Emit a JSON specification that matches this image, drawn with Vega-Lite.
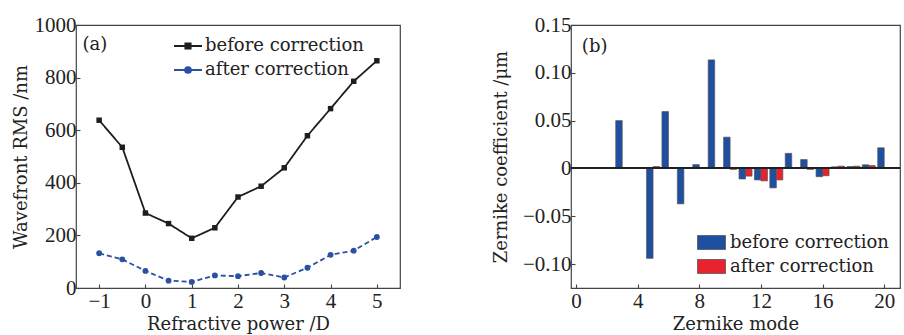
{
  "$schema": "https://vega.github.io/schema/vega-lite/v6.json",
  "padding": {"left": 11, "top": 13, "right": 0, "bottom": 0},
  "background": "white",
  "config": {
    "font": "DejaVu Serif",
    "view": {"stroke": "#444", "strokeWidth": 1.2},
    "axis": {
      "domain": false,
      "grid": false,
      "ticks": true,
      "tickColor": "#444",
      "tickSize": -4,
      "tickWidth": 1.1,
      "labelFont": "Liberation Serif",
      "labelFontSize": 21,
      "labelColor": "#222",
      "titleFont": "DejaVu Serif",
      "titleFontSize": 18,
      "titleFontWeight": "normal",
      "titleColor": "#222"
    }
  },
  "resolve": {"scale": {"color": "independent"}, "legend": {"color": "independent"}},
  "hconcat": [
    {
      "width": 324,
      "height": 263,
      "data": {
        "values": [
          {"power": -1, "series": "before correction", "rms": 638},
          {"power": -0.5, "series": "before correction", "rms": 535},
          {"power": 0, "series": "before correction", "rms": 285},
          {"power": 0.5, "series": "before correction", "rms": 245},
          {"power": 1, "series": "before correction", "rms": 189},
          {"power": 1.5, "series": "before correction", "rms": 229},
          {"power": 2, "series": "before correction", "rms": 346},
          {"power": 2.5, "series": "before correction", "rms": 387},
          {"power": 3, "series": "before correction", "rms": 457},
          {"power": 3.5, "series": "before correction", "rms": 579},
          {"power": 4, "series": "before correction", "rms": 682},
          {"power": 4.5, "series": "before correction", "rms": 786},
          {"power": 5, "series": "before correction", "rms": 864},
          {"power": -1, "series": "after correction", "rms": 132},
          {"power": -0.5, "series": "after correction", "rms": 109},
          {"power": 0, "series": "after correction", "rms": 65},
          {"power": 0.5, "series": "after correction", "rms": 28},
          {"power": 1, "series": "after correction", "rms": 23},
          {"power": 1.5, "series": "after correction", "rms": 48},
          {"power": 2, "series": "after correction", "rms": 45},
          {"power": 2.5, "series": "after correction", "rms": 57},
          {"power": 3, "series": "after correction", "rms": 40},
          {"power": 3.5, "series": "after correction", "rms": 77},
          {"power": 4, "series": "after correction", "rms": 126},
          {"power": 4.5, "series": "after correction", "rms": 142},
          {"power": 5, "series": "after correction", "rms": 194}
        ]
      },
      "layer": [
        {
          "mark": {"type": "line", "strokeWidth": 1.8},
          "encoding": {
            "x": {"field": "power", "type": "quantitative", "title": "Refractive power /D",
              "scale": {"domain": [-1.5, 5.5], "nice": false, "zero": false},
              "axis": {"values": [-1, 0, 1, 2, 3, 4, 5], "labelPadding": 6, "titlePadding": 4}},
            "y": {"field": "rms", "type": "quantitative", "title": "Wavefront RMS /nm",
              "scale": {"domain": [0, 1000], "nice": false},
              "axis": {"values": [0, 200, 400, 600, 800, 1000], "format": "d", "labelPadding": 4, "titlePadding": 4}},
            "color": {"field": "series", "type": "nominal",
              "scale": {"domain": ["before correction", "after correction"], "range": ["#1e1e1e", "#2a4fa3"]},
              "legend": {
                "title": null, "orient": "none", "legendX": 97, "legendY": 6,
                "labelFont": "DejaVu Serif", "labelFontSize": 18, "labelColor": "#222",
                "symbolSize": 784, "labelOffset": 2, "rowPadding": -4, "symbolStrokeWidth": 1.8,
                "symbolType": {"expr": "datum.value === 'before correction' ? 'M-1,0H1M-0.19,-0.19H0.19V0.19H-0.19Z' : 'M-1,0H1M0.21,0A0.21,0.21 0 1 1 -0.21,0A0.21,0.21 0 1 1 0.21,0Z'"}
              }},
            "strokeDash": {"field": "series", "type": "nominal",
              "scale": {"domain": ["before correction", "after correction"], "range": [[1, 0], [5, 3]]},
              "legend": null}
          }
        },
        {
          "transform": [{"filter": "datum.series === 'before correction'"}],
          "mark": {"type": "point", "shape": "square", "filled": true, "size": 30, "opacity": 1},
          "encoding": {
            "x": {"field": "power", "type": "quantitative"},
            "y": {"field": "rms", "type": "quantitative"},
            "color": {"field": "series", "type": "nominal"}
          }
        },
        {
          "transform": [{"filter": "datum.series === 'after correction'"}],
          "mark": {"type": "point", "shape": "circle", "filled": true, "size": 34, "opacity": 1},
          "encoding": {
            "x": {"field": "power", "type": "quantitative"},
            "y": {"field": "rms", "type": "quantitative"},
            "color": {"field": "series", "type": "nominal"}
          }
        },
        {
          "data": {"values": [{}]},
          "mark": {"type": "text", "fontSize": 18, "align": "left", "baseline": "middle", "color": "#222", "font": "DejaVu Serif"},
          "encoding": {
            "x": {"datum": -1.36},
            "y": {"datum": 925},
            "text": {"value": "(a)"}
          }
        }
      ]
    },
    {
      "width": 329,
      "height": 263,
      "data": {
        "values": [
          {"mode": 3, "series": "before correction", "coef": 0.05},
          {"mode": 4, "series": "before correction", "coef": 0.0003},
          {"mode": 5, "series": "before correction", "coef": -0.094},
          {"mode": 6, "series": "before correction", "coef": 0.0595},
          {"mode": 7, "series": "before correction", "coef": -0.037},
          {"mode": 8, "series": "before correction", "coef": 0.004},
          {"mode": 9, "series": "before correction", "coef": 0.1135},
          {"mode": 10, "series": "before correction", "coef": 0.0327},
          {"mode": 11, "series": "before correction", "coef": -0.011},
          {"mode": 12, "series": "before correction", "coef": -0.012},
          {"mode": 13, "series": "before correction", "coef": -0.0203},
          {"mode": 14, "series": "before correction", "coef": 0.0158},
          {"mode": 15, "series": "before correction", "coef": 0.0093},
          {"mode": 16, "series": "before correction", "coef": -0.0086},
          {"mode": 17, "series": "before correction", "coef": 0.0017},
          {"mode": 18, "series": "before correction", "coef": 0.002},
          {"mode": 19, "series": "before correction", "coef": 0.0038},
          {"mode": 20, "series": "before correction", "coef": 0.0216},
          {"mode": 3, "series": "after correction", "coef": 0.0005},
          {"mode": 4, "series": "after correction", "coef": 0.0003},
          {"mode": 5, "series": "after correction", "coef": 0.002},
          {"mode": 6, "series": "after correction", "coef": 0.0003},
          {"mode": 7, "series": "after correction", "coef": 0.0005},
          {"mode": 8, "series": "after correction", "coef": 0.0003},
          {"mode": 9, "series": "after correction", "coef": 0.0003},
          {"mode": 10, "series": "after correction", "coef": -0.001},
          {"mode": 11, "series": "after correction", "coef": -0.008},
          {"mode": 12, "series": "after correction", "coef": -0.013},
          {"mode": 13, "series": "after correction", "coef": -0.012},
          {"mode": 14, "series": "after correction", "coef": 0.0003},
          {"mode": 15, "series": "after correction", "coef": -0.001},
          {"mode": 16, "series": "after correction", "coef": -0.0076},
          {"mode": 17, "series": "after correction", "coef": 0.0024},
          {"mode": 18, "series": "after correction", "coef": 0.0024},
          {"mode": 19, "series": "after correction", "coef": 0.003},
          {"mode": 20, "series": "after correction", "coef": 0}
        ]
      },
      "layer": [
        {
          "transform": [{"filter": "datum.series === 'before correction'"}],
          "mark": {"type": "bar", "width": 6.5, "xOffset": -3.25, "stroke": "#555", "strokeWidth": 0.7},
          "encoding": {
            "x": {"field": "mode", "type": "quantitative", "title": "Zernike mode",
              "scale": {"domain": [0, 20.7], "nice": false, "zero": false},
              "axis": {"values": [0, 4, 8, 12, 16, 20], "labelPadding": 6, "titlePadding": 4}},
            "y": {"field": "coef", "type": "quantitative", "title": "Zernike coefficient /μm",
              "scale": {"domain": [-0.125, 0.15], "nice": false},
              "axis": {"values": [-0.1, -0.05, 0, 0.05, 0.1, 0.15], "labelPadding": 4, "titlePadding": 12,
                "labelExpr": "datum.value === 0 ? '0' : format(datum.value, '.2f')"}},
            "color": {"field": "series", "type": "nominal",
              "scale": {"domain": ["before correction", "after correction"], "range": ["#1f4fa0", "#e8232d"]},
              "legend": {
                "title": null, "orient": "none", "legendX": 126, "legendY": 203,
                "labelFont": "DejaVu Serif", "labelFontSize": 18, "labelColor": "#222",
                "symbolType": "M-1,-0.5H1V0.5H-1Z", "symbolSize": 784, "symbolStrokeColor": "#555",
                "symbolStrokeWidth": 0.8, "symbolOpacity": 1,
                "labelOffset": 4, "rowPadding": -2
              }}
          }
        },
        {
          "transform": [{"filter": "datum.series === 'after correction'"}],
          "mark": {"type": "bar", "width": 6.5, "xOffset": 3.25, "stroke": "#555", "strokeWidth": 0.7},
          "encoding": {
            "x": {"field": "mode", "type": "quantitative"},
            "y": {"field": "coef", "type": "quantitative"},
            "color": {"field": "series", "type": "nominal"}
          }
        },
        {
          "mark": {"type": "rule", "color": "#222", "strokeWidth": 1.2},
          "encoding": {"y": {"datum": 0}}
        },
        {
          "data": {"values": [{}]},
          "mark": {"type": "text", "fontSize": 18, "align": "left", "baseline": "middle", "color": "#222", "font": "DejaVu Serif"},
          "encoding": {
            "x": {"datum": 0.38},
            "y": {"datum": 0.127},
            "text": {"value": "(b)"}
          }
        }
      ]
    }
  ],
  "spacing": 90
}
